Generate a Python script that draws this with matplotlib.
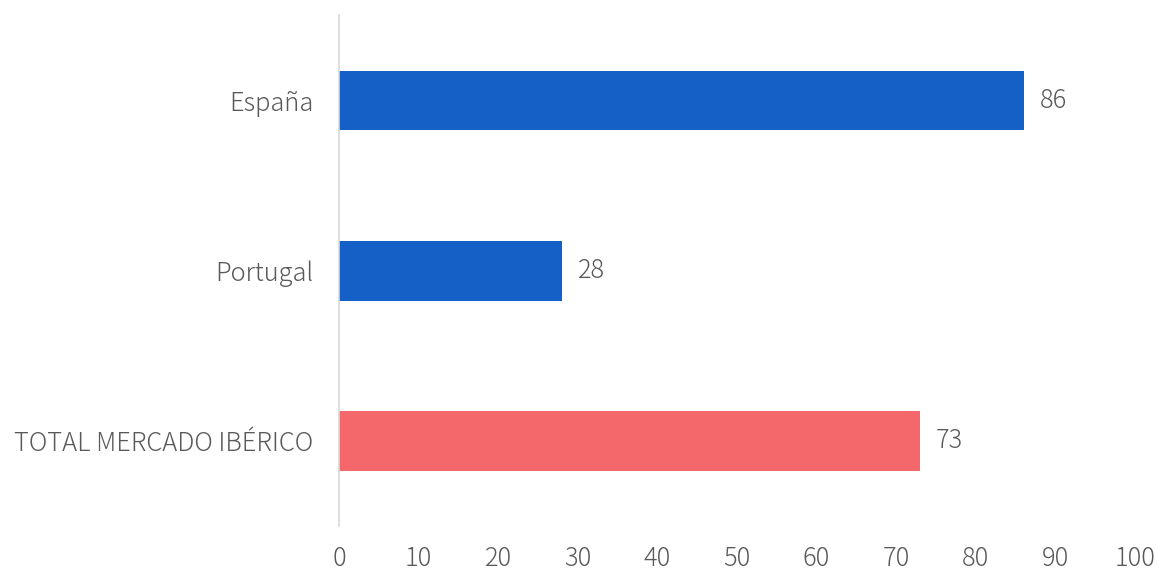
import matplotlib.pyplot as plt

CATEGORIES = ["España", "Portugal", "TOTAL MERCADO IBÉRICO"]
VALUES = [86, 28, 73]
COLORS = ["#1560C6", "#1560C6", "#F4676B"]
X_TICKS = [0, 10, 20, 30, 40, 50, 60, 70, 80, 90, 100]

plt.rcParams["font.family"] = ["Noto Sans CJK JP", "DejaVu Sans"]
FS = 18.3
TXT = "#595959"

fig = plt.figure(figsize=(11.57, 5.70), dpi=100)
ax = fig.add_axes([0.293, 0.077, 0.688, 0.896])

y_pos = list(range(len(CATEGORIES)))
ax.barh(y_pos, VALUES, height=0.35, color=COLORS)

for y, v in zip(y_pos, VALUES):
    ax.text(v + 2.0, y, str(v), va="center", ha="left", fontsize=FS,
            color=TXT, fontweight="light")

ax.set_xlim(0, 100)
ax.set_ylim(2.5, -0.5)
ax.set_yticks(y_pos)
ax.set_yticklabels(CATEGORIES, fontsize=FS, color=TXT, fontweight="light")
ax.set_xticks(X_TICKS)
ax.set_xticklabels([str(t) for t in X_TICKS], fontsize=FS, color=TXT,
                   fontweight="light")
ax.tick_params(axis="both", length=0)
ax.tick_params(axis="y", pad=18.5)
ax.tick_params(axis="x", pad=14)

for side in ["top", "right", "bottom"]:
    ax.spines[side].set_visible(False)
ax.spines["left"].set_color("#D9D9D9")
ax.spines["left"].set_linewidth(1.2)

fig.savefig("out.png", dpi=100)
